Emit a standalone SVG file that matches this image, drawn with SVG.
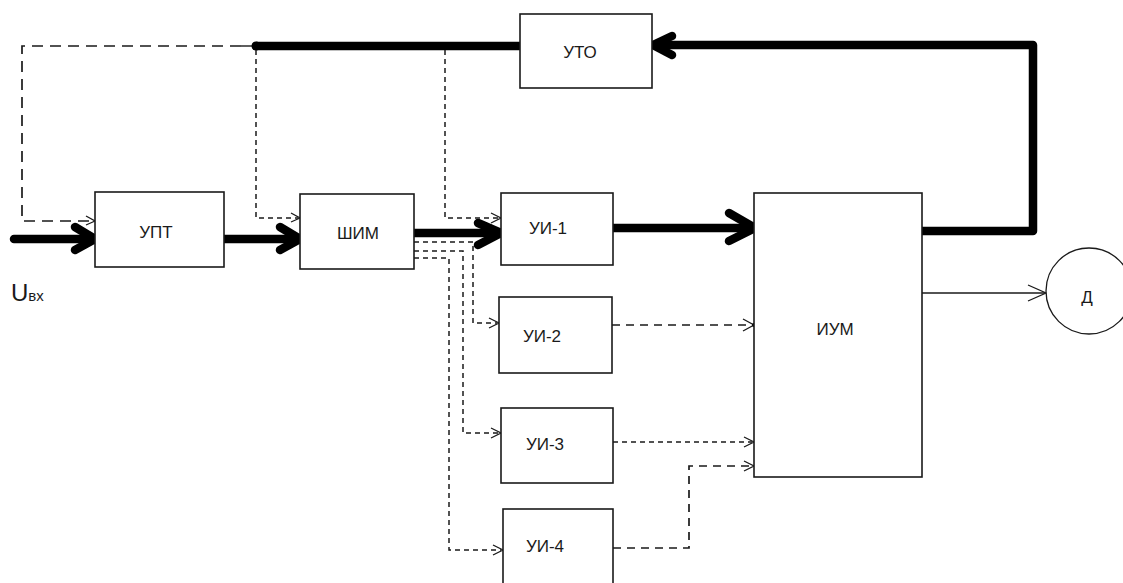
<svg xmlns="http://www.w3.org/2000/svg" width="1123" height="583" viewBox="0 0 1123 583">
  <style>
    .box { fill: #ffffff; stroke: #1a1a1a; stroke-width: 1.6; }
    .lbl { font-family: "Liberation Sans", Arial, sans-serif; font-size: 17px; fill: #1a1a1a; text-anchor: middle; dominant-baseline: central; }
    .thick { fill: none; stroke: #000; stroke-width: 8.5; stroke-linecap: round; stroke-linejoin: round; }
    .thin { fill: none; stroke: #1a1a1a; stroke-width: 1.4; }
    .dl { fill: none; stroke: #1a1a1a; stroke-width: 1.7; stroke-dasharray: 11 7; }
    .ds { fill: none; stroke: #1a1a1a; stroke-width: 1.5; stroke-dasharray: 5 4; }
    .dm { fill: none; stroke: #1a1a1a; stroke-width: 1.7; stroke-dasharray: 8 6; }
    .head { fill: none; stroke: #1a1a1a; stroke-width: 1.3; }
  </style>

  <!-- connectors -->
  <g id="connectors">
    <!-- main power path -->
    <polyline class="thick" points="14,239 93,239"/>
    <polyline class="thick" points="75,227 95,239 75,250"/>
    <polyline class="thick" points="224,239 298,239"/>
    <polyline class="thick" points="280,227 300,239 280,250"/>
    <polyline class="thick" points="414,233 499,233"/>
    <polyline class="thick" points="478,223 501,233 478,245"/>
    <polyline class="thick" points="613,228 752,228"/>
    <polyline class="thick" points="729,213 755,228 729,241"/>

    <!-- feedback loop -->
    <polyline class="thick" points="922,231 1033,231 1033,45 655,45"/>
    <polyline class="thick" points="672,36 653,45 672,55"/>
    <polyline class="thick" points="520,46 256,46"/>
    <circle cx="256" cy="46" r="4.5" fill="#000"/>
    <line class="thin" x1="241" y1="46" x2="252" y2="46"/>

    <!-- feedback taps -->
    <polyline class="dl" points="241,46 22,46 22,221 94,221"/>
    <polyline class="head" points="86,216 95,221 86,225"/>
    <polyline class="ds" points="256,50 256,218 298,218"/>
    <polyline class="head" points="291,213 300,218 291,222"/>
    <polyline class="ds" points="445,50 445,218 499,218"/>
    <polyline class="head" points="491,213 501,218 491,223"/>

    <!-- ШИМ channel outputs -->
    <polyline class="ds" points="414,242 473,242 473,323 497,323"/>
    <polyline class="head" points="489,318 499,323 489,328"/>
    <polyline class="ds" points="414,251 463,251 463,433 499,433"/>
    <polyline class="head" points="491,428 501,433 491,438"/>
    <polyline class="ds" points="414,258 449,258 449,550 501,550"/>
    <polyline class="head" points="493,545 503,550 493,555"/>

    <!-- key outputs to ИУМ -->
    <polyline class="dm" points="612,325 752,325"/>
    <polyline class="head" points="743,319 754,325 743,331"/>
    <circle cx="754" cy="325" r="2" fill="#000"/>
    <polyline class="ds" points="613,442 752,442"/>
    <polyline class="head" points="744,437 754,442 744,447"/>
    <polyline class="dm" points="613,548 689,548 689,466 752,466"/>
    <polyline class="head" points="744,461 754,466 744,471"/>

    <!-- ИУМ to motor -->
    <line class="thin" x1="922" y1="293" x2="1045" y2="293"/>
    <polyline class="head" points="1028,285 1046,293 1028,301"/>
  </g>

  <g id="upt">
    <rect class="box" x="95" y="192" width="129" height="75"/>
    <text class="lbl" x="156" y="232">УПТ</text>
  </g>
  <g id="shim">
    <rect class="box" x="300" y="194" width="114" height="75"/>
    <text class="lbl" x="358" y="233">ШИМ</text>
  </g>
  <g id="ui1">
    <rect class="box" x="501" y="193" width="112" height="72"/>
    <text class="lbl" x="548" y="228">УИ-1</text>
  </g>
  <g id="ui2">
    <rect class="box" x="499" y="297" width="113" height="76"/>
    <text class="lbl" x="542" y="336">УИ-2</text>
  </g>
  <g id="ui3">
    <rect class="box" x="501" y="408" width="112" height="75"/>
    <text class="lbl" x="545" y="444">УИ-3</text>
  </g>
  <g id="ui4">
    <rect class="box" x="503" y="509" width="110" height="85"/>
    <text class="lbl" x="545" y="546">УИ-4</text>
  </g>
  <g id="ium">
    <rect class="box" x="754" y="193" width="168" height="284"/>
    <text class="lbl" x="835" y="329">ИУМ</text>
  </g>
  <g id="uto">
    <rect class="box" x="520" y="14" width="132" height="74"/>
    <text class="lbl" x="580" y="52">УТО</text>
  </g>
  <g id="motor">
    <circle cx="1089" cy="291" r="43" fill="#fff" stroke="#1a1a1a" stroke-width="1.3"/>
    <text class="lbl" x="1087" y="297">Д</text>
  </g>
  <g id="input-label">
    <text x="11" y="301" font-family="'Liberation Sans', Arial, sans-serif" font-size="24" fill="#1a1a1a">U<tspan font-size="15">вх</tspan></text>
  </g>
</svg>
